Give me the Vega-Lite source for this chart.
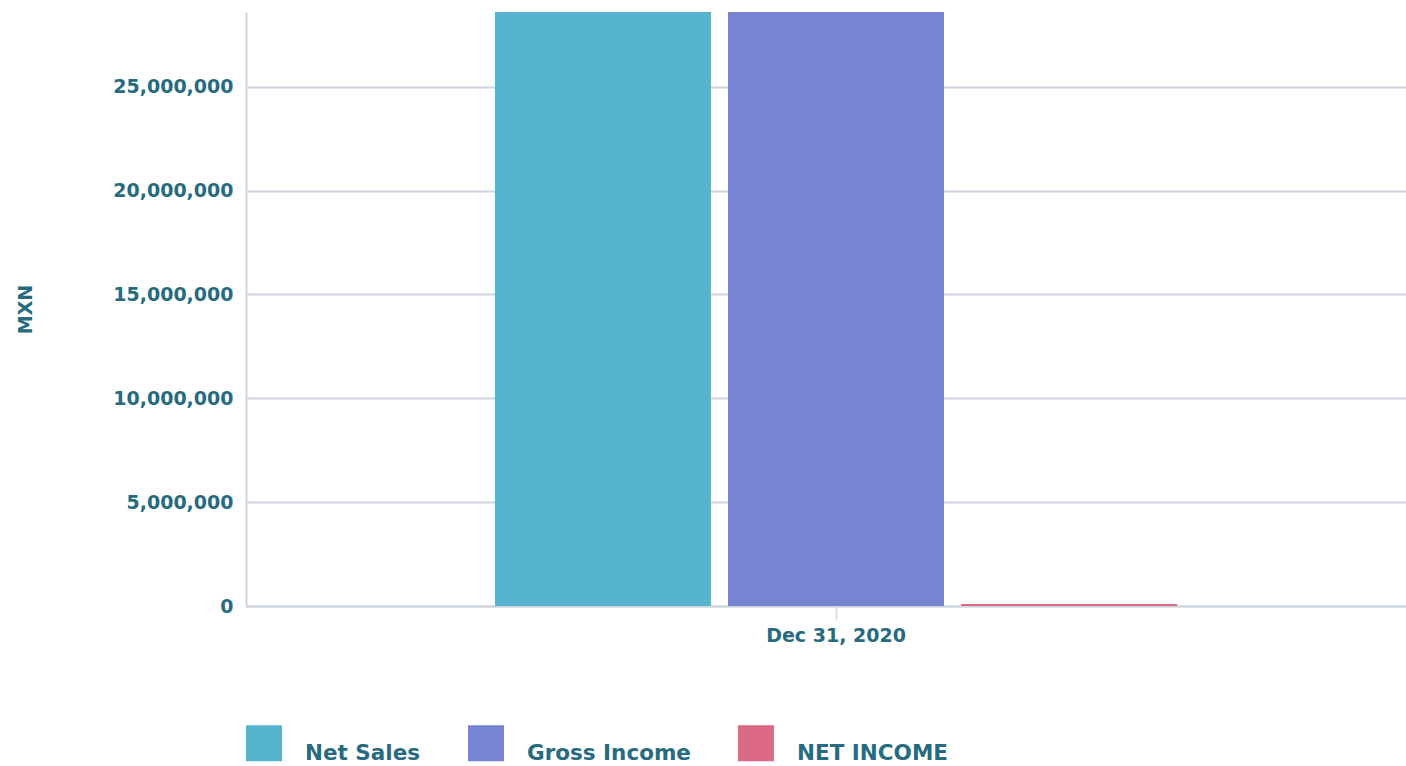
{
  "$schema": "https://vega.github.io/schema/vega-lite/v6.json",
  "width": 1180,
  "height": 594,
  "autosize": {"type": "none"},
  "padding": {"left": 246, "top": 12, "right": 0, "bottom": 160},
  "background": "white",
  "config": {
    "view": {"stroke": null},
    "font": "DejaVu Sans",
    "axis": {"labelFont": "DejaVu Sans", "titleFont": "DejaVu Sans"}
  },
  "data": {
    "values": [
      {"date": "Dec 31, 2020", "metric": "Net Sales", "value": 36000000},
      {"date": "Dec 31, 2020", "metric": "Gross Income", "value": 33000000},
      {"date": "Dec 31, 2020", "metric": "NET INCOME", "value": 95000}
    ]
  },
  "mark": {"type": "bar", "clip": true},
  "encoding": {
    "x": {
      "field": "date",
      "type": "nominal",
      "scale": {"paddingInner": 0, "paddingOuter": 0.365},
      "axis": {
        "title": null,
        "labelAngle": 0,
        "labelFontSize": 19,
        "labelFontWeight": "bold",
        "labelColor": "#276b80",
        "labelPadding": 6,
        "tickSize": 14,
        "tickWidth": 2,
        "tickColor": "#dde2e7",
        "domain": true,
        "domainColor": "#cdd5de",
        "domainWidth": 2
      }
    },
    "xOffset": {
      "field": "metric",
      "type": "nominal",
      "sort": ["Net Sales", "Gross Income", "NET INCOME"],
      "scale": {"paddingInner": 0.073, "paddingOuter": 0}
    },
    "y": {
      "field": "value",
      "type": "quantitative",
      "scale": {"domain": [0, 28600000], "nice": false},
      "axis": {
        "title": "MXN",
        "titleFontSize": 19,
        "titleFontWeight": "bold",
        "titleColor": "#276b80",
        "titleX": -221,
        "titleY": 297,
        "titleAngle": -90,
        "titleAlign": "center",
        "titleBaseline": "middle",
        "values": [0, 5000000, 10000000, 15000000, 20000000, 25000000],
        "format": ",d",
        "labelFontSize": 19,
        "labelFontWeight": "bold",
        "labelColor": "#276b80",
        "labelPadding": 13,
        "ticks": false,
        "grid": true,
        "gridColor": "#cdd5de",
        "gridWidth": 2,
        "domain": true,
        "domainColor": "#cdd5de",
        "domainWidth": 2
      }
    },
    "color": {
      "field": "metric",
      "type": "nominal",
      "scale": {
        "domain": ["Net Sales", "Gross Income", "NET INCOME"],
        "range": ["#57b4ce", "#7784d1", "#dc6986"]
      },
      "legend": {
        "title": null,
        "orient": "none",
        "legendX": 0,
        "legendY": 713,
        "direction": "horizontal",
        "symbolType": "square",
        "symbolSize": 1296,
        "symbolStrokeWidth": 0,
        "labelFontSize": 21.5,
        "labelFontWeight": "bold",
        "labelColor": "#276b80",
        "labelBaseline": "top",
        "labelLimit": 400,
        "labelOffset": 23,
        "columnPadding": 47
      }
    }
  }
}
